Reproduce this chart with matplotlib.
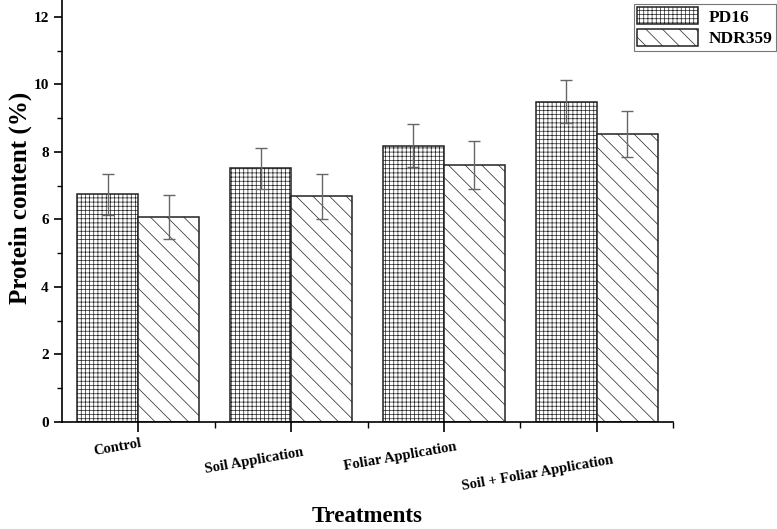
import matplotlib
matplotlib.use("Agg")
import matplotlib.pyplot as plt
import numpy as np
from matplotlib.ticker import MultipleLocator, FixedLocator
import matplotlib.transforms as mtransforms

categories = ["Control", "Soil Application", "Foliar Application", "Soil + Foliar Application"]
series_names = ["PD16", "NDR359"]
pd16 = [6.75, 7.52, 8.19, 9.49]
pd16_err = [0.61, 0.61, 0.63, 0.64]
ndr359 = [6.07, 6.68, 7.61, 8.53]
ndr359_err = [0.66, 0.68, 0.70, 0.68]
y_ticks = [0, 2, 4, 6, 8, 10, 12]

plt.rcParams['font.family'] = ['Liberation Serif', 'DejaVu Serif']
plt.rcParams['font.weight'] = 'bold'
plt.rcParams['hatch.linewidth'] = 0.5
plt.rcParams['hatch.color'] = '#222222'

fig = plt.figure(figsize=(7.77, 5.29), dpi=100)
ax = fig.add_axes([62/777, 1 - 422/529, (673 - 62)/777, 422/529])

x = np.arange(1, len(categories) + 1)
w = 0.4
ax.bar(x - w/2, pd16, width=w, facecolor='white', edgecolor='#222222', linewidth=1.1,
       hatch='++++', label=series_names[0])
ax.bar(x + w/2, ndr359, width=w, facecolor='white', edgecolor='#222222', linewidth=1.1,
       hatch='\\\\', label=series_names[1])
ax.errorbar(x - w/2, pd16, yerr=pd16_err, fmt='none', ecolor='#666666', elinewidth=1,
            capsize=4.3, capthick=1)
ax.errorbar(x + w/2, ndr359, yerr=ndr359_err, fmt='none', ecolor='#666666', elinewidth=1,
            capsize=4.3, capthick=1)

ax.set_xlim(0.5, 4.5)
ax.set_ylim(0, 12.5)
ax.spines['top'].set_visible(False)
ax.spines['right'].set_visible(False)
ax.spines['left'].set_linewidth(1.2)
ax.spines['bottom'].set_linewidth(1.2)

ax.set_yticks(y_ticks)
ax.yaxis.set_minor_locator(MultipleLocator(1))
ax.tick_params(axis='y', which='major', length=6, width=1.2, labelsize=11)
ax.tick_params(axis='y', which='minor', length=3.5, width=1)
ax.set_xticks(x)
ax.set_xticklabels([])
ax.xaxis.set_minor_locator(FixedLocator(x + 0.5))
ax.tick_params(axis='x', which='major', length=7, width=1.2)
ax.tick_params(axis='x', which='minor', length=4, width=1)
for lab in ax.get_yticklabels():
    lab.set_fontweight('bold')

# rotated category labels (staggered as in reference)
trans = mtransforms.blended_transform_factory(ax.transData, fig.transFigure)
label_dx = [-0.138, -0.243, -0.289, -0.387]
label_y = [1 - 447/529, 1 - 461/529, 1 - 457/529, 1 - 473/529]
for xi, cat, dx, yy in zip(x, categories, label_dx, label_y):
    ax.text(xi + dx, yy, cat, transform=trans, rotation=10, ha='center', va='center',
            fontsize=10.5, fontweight='bold', rotation_mode='anchor')

fig.text(20/777, 1 - 198/529, "Protein content (%)", rotation=90, ha='center', va='center',
         fontsize=18, fontweight='bold')
fig.text(367/777, 1 - 517/529, "Treatments", ha='center', va='center',
         fontsize=16.5, fontweight='bold')

leg = ax.legend(loc='upper right', bbox_to_anchor=(776/777, 1 - 4/529),
                bbox_transform=fig.transFigure, borderaxespad=0, frameon=True, fancybox=False,
                prop={'weight': 'bold', 'size': 12.5}, handlelength=3.5, handleheight=1.1,
                borderpad=0.2, labelspacing=0.2, handletextpad=0.6)
leg.get_frame().set_edgecolor('#555555')
leg.get_frame().set_linewidth(0.8)

fig.savefig("out.png", dpi=100)
